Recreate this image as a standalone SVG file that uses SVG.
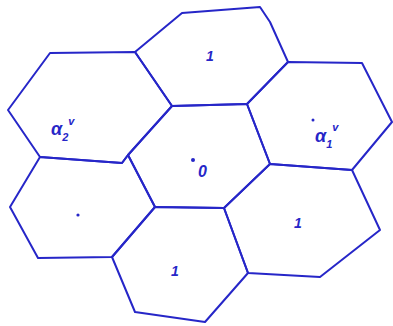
<svg xmlns="http://www.w3.org/2000/svg" width="393" height="326" viewBox="0 0 393 326">
<style>
.h{fill:none;stroke:#2626c8;stroke-width:2;stroke-linejoin:round;stroke-linecap:round}
.t{fill:#2626c8;font-family:"Liberation Sans",sans-serif;font-style:italic;font-weight:bold}
</style>
<rect width="393" height="326" fill="#fff"/>
<g id="hex-top"><polygon class="h" points="135,52 182,13 260,7 270,22 288,62 247,104 172,106"/><text class="t" x="206" y="61" font-size="14">1</text></g>
<g id="hex-topleft"><polygon class="h" points="8,110 50,53 135,52 172,106 128,155 122,163 40,157"/><text class="t" x="51" y="135" font-size="18">α<tspan font-size="11" dy="6">2</tspan><tspan font-size="11" dy="-16">v</tspan></text></g>
<g id="hex-center"><polygon class="h" points="172,106 247,104 270,164 224,208 155,207 128,155"/><circle cx="193" cy="160" r="2" fill="#2626c8"/><text class="t" x="198" y="177" font-size="16">0</text></g>
<g id="hex-right"><polygon class="h" points="247,104 288,62 362,63 392,122 352,170 270,164"/><circle cx="313" cy="120" r="1.5" fill="#2626c8"/><text class="t" x="315" y="142" font-size="18">α<tspan font-size="11" dy="6">1</tspan><tspan font-size="11" dy="-17">v</tspan></text></g>
<g id="hex-bottomright"><polygon class="h" points="270,164 352,170 380,230 320,277 248,273 224,208"/><text class="t" x="294" y="228" font-size="14">1</text></g>
<g id="hex-bottom"><polygon class="h" points="155,207 224,208 248,273 205,322 135,312 112,257"/><text class="t" x="171" y="276" font-size="14">1</text></g>
<g id="hex-bottomleft"><polygon class="h" points="40,157 122,163 128,155 155,207 112,257 38,258 10,207"/><circle cx="78" cy="215" r="1.6" fill="#2626c8"/></g>
<g id="connectors"></g>
</svg>
